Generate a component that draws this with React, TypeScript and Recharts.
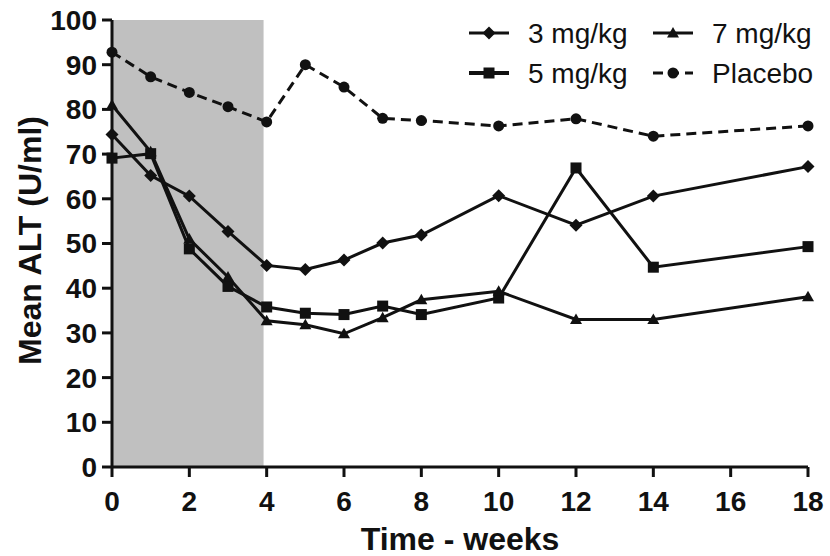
import { LineChart, Line, XAxis, YAxis, ReferenceArea, Legend } from "recharts";

const weeks = [0, 1, 2, 3, 4, 5, 6, 7, 8, 10, 12, 14, 18];
const mg3 = [74.4, 65.2, 60.6, 52.7, 45.1, 44.2, 46.3, 50.1, 51.9, 60.7, 54.1, 60.6, 67.2];
const mg5 = [69.1, 70.1, 48.8, 40.4, 35.8, 34.4, 34.1, 36.0, 34.1, 37.8, 66.9, 44.7, 49.3];
const mg7 = [81.0, 70.5, 51.0, 42.5, 32.7, 31.8, 29.8, 33.4, 37.4, 39.3, 33.0, 33.0, 38.1];
const placebo = [92.8, 87.3, 83.8, 80.6, 77.2, 90.0, 85.0, 78.0, 77.5, 76.3, 77.9, 74.0, 76.3];

const xTicks = [0, 2, 4, 6, 8, 10, 12, 14, 16, 18];
const yTicks = [0, 10, 20, 30, 40, 50, 60, 70, 80, 90, 100];
const treatmentEnd = 3.92;

const data = weeks.map((w, i) => ({
  week: w,
  mg3: mg3[i],
  mg5: mg5[i],
  mg7: mg7[i],
  placebo: placebo[i],
}));

const FONT = '"Liberation Sans", Arial, sans-serif';
const INK = "#111";

type Pt = { cx?: number; cy?: number };

const Diamond = ({ cx = 0, cy = 0 }: Pt) => (
  <path d={`M${cx},${cy - 6.5}L${cx + 6.5},${cy}L${cx},${cy + 6.5}L${cx - 6.5},${cy}Z`} fill={INK} />
);
const Square = ({ cx = 0, cy = 0 }: Pt) => (
  <rect x={cx - 5.5} y={cy - 5.5} width={11} height={11} fill={INK} />
);
const Triangle = ({ cx = 0, cy = 0 }: Pt) => (
  <path d={`M${cx},${cy - 6}L${cx + 6},${cy + 4.5}L${cx - 6},${cy + 4.5}Z`} fill={INK} />
);
const Dot = ({ cx = 0, cy = 0 }: Pt) => <circle cx={cx} cy={cy} r={5.5} fill={INK} />;

const legendItems = [
  { label: "3 mg/kg", Mark: Diamond, x: 0, y: 0, width: 3, dash: undefined },
  { label: "7 mg/kg", Mark: Triangle, x: 184, y: 0, width: 3, dash: undefined },
  { label: "5 mg/kg", Mark: Square, x: 0, y: 40, width: 4, dash: undefined },
  { label: "Placebo", Mark: Dot, x: 184, y: 40, width: 3, dash: "10 6" },
];

const renderLegend = () => (
  <svg width={370} height={80}>
    {legendItems.map(({ label, Mark, x, y, width, dash }) => (
      <g key={label}>
        <line x1={x + 5} x2={x + 45} y1={y + 23} y2={y + 23} stroke={INK} strokeWidth={width} strokeDasharray={dash} />
        <Mark cx={x + 25} cy={y + 23} />
        <text x={x + 64} y={y + 23} dy="0.36em" fontSize={28} fontFamily={FONT} fill={INK}>
          {label}
        </text>
      </g>
    ))}
  </svg>
);

const YLabel = (props: any) => {
  const vb = props.viewBox;
  const cx = vb.x + 30;
  const cy = vb.y + vb.height / 2 - 3;
  return (
    <text x={cx} y={cy} transform={`rotate(-90 ${cx} ${cy})`} textAnchor="middle" dominantBaseline="central"
      fontSize={32} fontWeight="bold" fontFamily={FONT} fill={INK}>
      Mean ALT (U/ml)
    </text>
  );
};

const XLabel = (props: any) => {
  const vb = props.viewBox;
  return (
    <text x={vb.x + vb.width / 2} y={550} textAnchor="middle" fontSize={32} fontWeight="bold" fontFamily={FONT} fill={INK}>
      Time - weeks
    </text>
  );
};

const tickStyle = { fill: INK, fontSize: 28, fontWeight: "bold", fontFamily: FONT };

export default function App() {
  return (
    <div style={{ position: "absolute", left: 0, top: 0, background: "#fff" }}>
      <LineChart width={830} height={556} data={data} margin={{ top: 20, right: 22, bottom: 0, left: 0 }}>
        <ReferenceArea x1={0} x2={treatmentEnd} y1={0} y2={100} fill="#c0c0c0" fillOpacity={1} stroke="none" />
        <XAxis
          dataKey="week"
          type="number"
          domain={[0, 18]}
          ticks={xTicks}
          height={89}
          axisLine={{ stroke: INK, strokeWidth: 3 }}
          tickLine={{ stroke: INK, strokeWidth: 3 }}
          tickSize={10}
          tickMargin={14}
          tick={tickStyle}
          label={<XLabel />}
        />
        <YAxis
          type="number"
          domain={[0, 100]}
          ticks={yTicks}
          width={112}
          axisLine={{ stroke: INK, strokeWidth: 3 }}
          tickLine={{ stroke: INK, strokeWidth: 3 }}
          tickSize={10}
          tickMargin={5}
          tick={tickStyle}
          label={<YLabel />}
        />
        <Legend
          layout="horizontal"
          verticalAlign="middle"
          align="center"
          content={renderLegend}
          wrapperStyle={{ top: 10, left: 464, width: 370, height: 80 }}
        />
        <Line dataKey="placebo" stroke={INK} strokeWidth={3} strokeDasharray="10 6" dot={(p: any) => <Dot key={p.index} cx={p.cx} cy={p.cy} />} isAnimationActive={false} />
        <Line dataKey="mg3" stroke={INK} strokeWidth={3} dot={(p: any) => <Diamond key={p.index} cx={p.cx} cy={p.cy} />} isAnimationActive={false} />
        <Line dataKey="mg5" stroke={INK} strokeWidth={3} dot={(p: any) => <Square key={p.index} cx={p.cx} cy={p.cy} />} isAnimationActive={false} />
        <Line dataKey="mg7" stroke={INK} strokeWidth={3} dot={(p: any) => <Triangle key={p.index} cx={p.cx} cy={p.cy} />} isAnimationActive={false} />
      </LineChart>
    </div>
  );
}
